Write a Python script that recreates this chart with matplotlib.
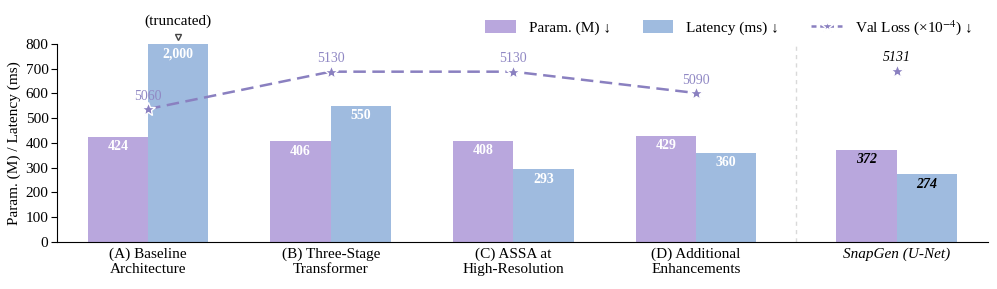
import matplotlib
matplotlib.use("Agg")
import matplotlib.pyplot as plt
from matplotlib.patches import Patch
from matplotlib.lines import Line2D
import numpy as np

plt.rcParams['font.family'] = ['Liberation Serif', 'DejaVu Serif']
plt.rcParams['mathtext.fontset'] = 'stix'

categories = ["(A) Baseline\nArchitecture", "(B) Three-Stage\nTransformer",
              "(C) ASSA at\nHigh-Resolution", "(D) Additional\nEnhancements",
              "SnapGen (U-Net)"]
params = [424, 406, 408, 429, 372]
latency = [2000, 550, 293, 360, 274]
val_loss = [5060, 5130, 5130, 5090, 5131]
y_ticks = [0, 100, 200, 300, 400, 500, 600, 700, 800]

c_param = "#b9a7dd"
c_lat = "#9fbbdf"
c_line = "#8a80c0"
c_lbl = "#9088c4"

pos = np.array([0, 1, 2, 3, 4.1])
w = 0.33
ymax = 800

fig = plt.figure(figsize=(9.97, 2.89), dpi=100)
ax = fig.add_axes([0.057, 0.163, 0.934, 0.685])

lat_plot = [min(v, ymax) for v in latency]
b1 = ax.bar(pos - w / 2, params, w, color=c_param, zorder=2)
b2 = ax.bar(pos + w / 2, lat_plot, w, color=c_lat, zorder=2)

for i in range(len(pos)):
    snap = i == len(pos) - 1
    for x, v, h in [(pos[i] - w / 2, params[i], params[i]), (pos[i] + w / 2, latency[i], lat_plot[i])]:
        txt = f"{v:,}"
        ax.annotate(txt, (x, h), xytext=(0, -10), textcoords='offset pixels',
                    ha='center', va='center', fontsize=10, fontweight='bold',
                    color='black' if snap else 'white',
                    style='italic' if snap else 'normal', zorder=5)

# truncated marker
ax.annotate("(truncated)", (pos[0] + w / 2, ymax), xytext=(0, 23), textcoords='offset pixels',
            ha='center', va='center', fontsize=11, annotation_clip=False)
ax.plot([pos[0] + w / 2], [ymax + 28], marker='v', markersize=5, markerfacecolor='white',
        markeredgecolor='#444444', markeredgewidth=1, clip_on=False, linestyle='none')

ax.set_xlim(-0.5, 4.6)
ax.set_ylim(0, ymax)
ax.set_yticks(y_ticks)
ax.set_xticks(pos)
ax.set_xticklabels(categories)
ax.get_xticklabels()[-1].set_style('italic')
ax.tick_params(axis='x', length=0, labelsize=11, pad=4)
ax.tick_params(axis='y', length=4, labelsize=11, pad=2)
ax.set_ylabel("Param. (M) / Latency (ms)", fontsize=11, labelpad=3)
ax.spines['top'].set_visible(False)
ax.spines['right'].set_visible(False)

ax.plot([3.55, 3.55], [0, ymax], color='#d9d9d9', linestyle=(0, (3, 3)), linewidth=1, zorder=1)

ax2 = ax.twinx()
ax2.set_ylim(4811, 5182)
ax2.axis('off')
ax2.plot(pos[:4], val_loss[:4], linestyle='--', color=c_line, linewidth=1.8,
         dashes=(5, 2.6), zorder=4)
ax2.plot(pos[:4], val_loss[:4], linestyle='none', marker='*', markersize=10,
         markerfacecolor=c_line, markeredgecolor='white', markeredgewidth=1, zorder=5)
ax2.plot([pos[4]], [val_loss[4]], linestyle='none', marker='*', markersize=10,
         markerfacecolor=c_line, markeredgecolor='white', markeredgewidth=1, zorder=5)
for i in range(4):
    ax2.annotate(str(val_loss[i]), (pos[i], val_loss[i]), xytext=(0, 13), textcoords='offset pixels',
                 ha='center', va='center', fontsize=10, color=c_lbl)
ax2.annotate(str(val_loss[4]), (pos[4], val_loss[4]), xytext=(0, 14), textcoords='offset pixels',
             ha='center', va='center', fontsize=10, color='black', style='italic')

handles = [Patch(facecolor=c_param), Patch(facecolor=c_lat),
           Line2D([0], [0], color=c_line, linestyle='--', dashes=(2, 1.5), linewidth=1.8,
                  marker='*', markersize=9, markerfacecolor=c_line, markeredgecolor='white')]
labels = ["Param. (M) ↓", "Latency (ms) ↓", "Val Loss (×10$^{-4}$) ↓"]
fig.legend(handles, labels, loc='center right', bbox_to_anchor=(0.989, 0.905), ncol=3,
           frameon=False, fontsize=11, handlelength=2.0, handleheight=0.9,
           columnspacing=2.1, handletextpad=0.85)

fig.savefig("out.png", dpi=100)
